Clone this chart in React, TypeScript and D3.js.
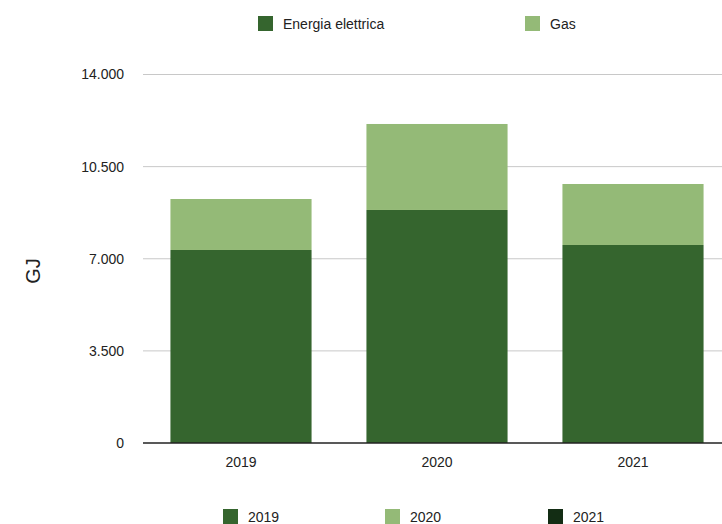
import React from "react";
import * as d3 from "d3";

const categories = ["2019", "2020", "2021"];
const energiaElettrica = [7333, 8853, 7523];
const gas = [1937, 3267, 2317];
const yTicks = [0, 3500, 7000, 10500, 14000];
const seriesNames = ["Energia elettrica", "Gas"];
const seriesColors = ["#35652e", "#94ba77"];
const bottomLegend = ["2019", "2020", "2021"];
const bottomColors = ["#35652e", "#94ba77", "#132d14"];

const W = 722;
const H = 524;
const FONT = "'Liberation Sans', Arial, Helvetica, sans-serif";

export default function App() {
  const x = d3
    .scaleBand<string>()
    .domain(categories)
    .range([143, 731])
    .paddingInner(0.28)
    .paddingOuter(0.14);
  const y = d3.scaleLinear().domain([0, 14000]).range([443, 74.5]);
  const locale = d3.formatLocale({ decimal: ",", thousands: ".", grouping: [3], currency: ["€", ""] });
  const fmt = locale.format(",d");

  const data = categories.map((c, i) => ({ cat: c, energia: energiaElettrica[i], gas: gas[i] }));
  const stack = d3.stack<any>().keys(["energia", "gas"])(data);

  return (
    <svg width={W} height={H} style={{ position: "absolute", left: 0, top: 0, display: "block" }} fontFamily={FONT}>
      <rect width={W} height={H} fill="#fff" />
      {yTicks.map((t) => (
        <g key={t}>
          {t !== 0 && (
            <line x1={143} x2={W} y1={y(t)} y2={y(t)} stroke="#c8c8c8" strokeWidth={1} />
          )}
          <text x={124} y={y(t)} dy="0.35em" textAnchor="end" fontSize={14} fill="#222">
            {fmt(t)}
          </text>
        </g>
      ))}
      {stack.map((s, si) =>
        s.map((d, i) => (
          <rect
            key={si + "-" + i}
            x={x(categories[i])}
            width={x.bandwidth()}
            y={y(d[1])}
            height={y(d[0]) - y(d[1])}
            fill={seriesColors[si]}
          />
        ))
      )}
      <line x1={143} x2={W} y1={443} y2={443} stroke="#222" strokeWidth={1.5} />
      {categories.map((c) => (
        <text key={c} x={(x(c) as number) + x.bandwidth() / 2} y={467} textAnchor="middle" fontSize={14} fill="#222">
          {c}
        </text>
      ))}
      <text transform="translate(40,271) rotate(-90)" textAnchor="middle" fontSize={20} fill="#222">
        GJ
      </text>
      {seriesNames.map((n, i) => {
        const lx = [258, 525][i];
        return (
          <g key={n}>
            <rect x={lx} y={16} width={15} height={15} fill={seriesColors[i]} />
            <text x={lx + 25} y={29} fontSize={14} fill="#222">
              {n}
            </text>
          </g>
        );
      })}
      {bottomLegend.map((n, i) => {
        const lx = [223, 385, 548][i];
        return (
          <g key={n}>
            <rect x={lx} y={509} width={15} height={15} fill={bottomColors[i]} />
            <text x={lx + 25} y={522} fontSize={14} fill="#222">
              {n}
            </text>
          </g>
        );
      })}
    </svg>
  );
}
